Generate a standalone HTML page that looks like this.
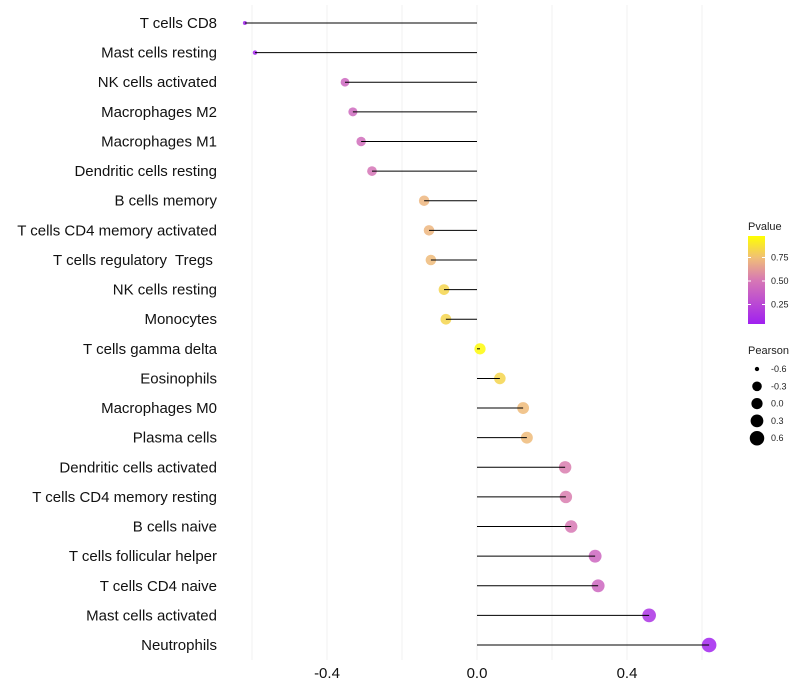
<!DOCTYPE html>
<html><head><meta charset="utf-8"><style>
body{margin:0;background:#fff;font-family:"Liberation Sans",sans-serif}
text{white-space:pre}
</style></head><body>
<svg id="c" width="800" height="700" style="display:block"></svg>
<script>
const categories=["T cells CD8","Mast cells resting","NK cells activated","Macrophages M2","Macrophages M1","Dendritic cells resting","B cells memory","T cells CD4 memory activated","T cells regulatory  Tregs ","NK cells resting","Monocytes","T cells gamma delta","Eosinophils","Macrophages M0","Plasma cells","Dendritic cells activated","T cells CD4 memory resting","B cells naive","T cells follicular helper","T cells CD4 naive","Mast cells activated","Neutrophils"];
const pearson=[-0.619,-0.592,-0.352,-0.331,-0.309,-0.28,-0.141,-0.128,-0.123,-0.088,-0.083,0.008,0.061,0.123,0.133,0.235,0.237,0.251,0.315,0.323,0.459,0.619];
const pvalue=[0.02,0.03,0.4,0.42,0.44,0.48,0.72,0.72,0.74,0.84,0.84,0.98,0.84,0.74,0.74,0.52,0.52,0.5,0.4,0.4,0.1,0.02];
const xTicks=[-0.4,0,0.4];
const xTickLabels=["-0.4","0.0","0.4"];
const gridVals=[-0.6,-0.4,-0.2,0,0.2,0.4,0.6];
const pTicks=[0.25,0.5,0.75];
const sizeVals=[-0.6,-0.3,0,0.3,0.6];
const sizeLabels=["-0.6","-0.3","0.0","0.3","0.6"];

const NS="http://www.w3.org/2000/svg";
const svg=document.getElementById('c');
function mk(t,a,p){const e=document.createElementNS(NS,t);for(const k in a)e.setAttribute(k,a[k]);(p||svg).appendChild(e);return e;}
const x=v=>477+v*375;
const y=i=>23+i*29.62;
function rad(v){
  const vs=[-0.62,-0.3,0,0.3,0.62],rs=[2,4.8,5.6,6.4,7.3];
  if(v<=vs[0])return rs[0];
  for(let i=1;i<vs.length;i++)if(v<=vs[i])return rs[i-1]+(rs[i]-rs[i-1])*(v-vs[i-1])/(vs[i]-vs[i-1]);
  return rs[rs.length-1];
}
function col(p){
  const stops=[[0,[160,32,240]],[0.5,[215,120,180]],[0.75,[240,190,120]],[1,[255,255,0]]];
  for(let i=1;i<stops.length;i++){if(p<=stops[i][0]){const [a,ca]=stops[i-1],[b,cb]=stops[i];const t=(p-a)/(b-a);return `rgb(${ca.map((c,j)=>Math.round(c+(cb[j]-c)*t)).join(',')})`;}}
  return 'rgb(255,255,0)';
}
gridVals.forEach(v=>{const g=mk('line',{x1:x(v),x2:x(v),y1:5,y2:660,stroke:'#f0f0f0','stroke-width':1});

});
xTicks.forEach((v,i)=>{const t=mk('text',{x:x(v),y:678,'text-anchor':'middle','font-size':15,fill:'#111'});t.textContent=xTickLabels[i];

});
categories.forEach((c,i)=>{
  const t=mk('text',{x:217,y:y(i)+5,'text-anchor':'end','font-size':15,fill:'#111'});t.textContent=c;
  
  
  const pt=mk('circle',{cx:x(pearson[i]),cy:y(i),r:rad(pearson[i]),fill:col(pvalue[i]),'fill-opacity':0.85});
  
  
  const l=mk('line',{x1:x(0),x2:x(pearson[i]),y1:y(i),y2:y(i),stroke:'#000','stroke-width':1});
  
  
});
const defs=mk('defs',{});const lg=mk('linearGradient',{id:'g',x1:0,y1:1,x2:0,y2:0},defs);
[0,0.25,0.5,0.75,1].forEach(o=>mk('stop',{offset:o,'stop-color':col(o)},lg));
const lt=mk('text',{x:748,y:230,'font-size':11,fill:'#222'});lt.textContent='Pvalue';


const bar=mk('rect',{x:748,y:236,width:17,height:88,fill:'url(#g)'});


const py=p=>328-p*94;
pTicks.forEach(p=>{mk('line',{x1:748,x2:751,y1:py(p),y2:py(p),stroke:'#fff'});mk('line',{x1:762,x2:765,y1:py(p),y2:py(p),stroke:'#fff'});
const t=mk('text',{x:771,y:py(p)+3,'font-size':9,fill:'#222'});t.textContent=p.toFixed(2);

});
const st=mk('text',{x:748,y:354,'font-size':11,fill:'#222'});st.textContent='Pearson';


sizeVals.forEach((v,i)=>{const cy=369+i*17.3;const d=mk('circle',{cx:757,cy:cy,r:rad(v),fill:'#000'});


const t=mk('text',{x:771,y:cy+3,'font-size':9,fill:'#222'});t.textContent=sizeLabels[i];

});
</script>
</body></html>
